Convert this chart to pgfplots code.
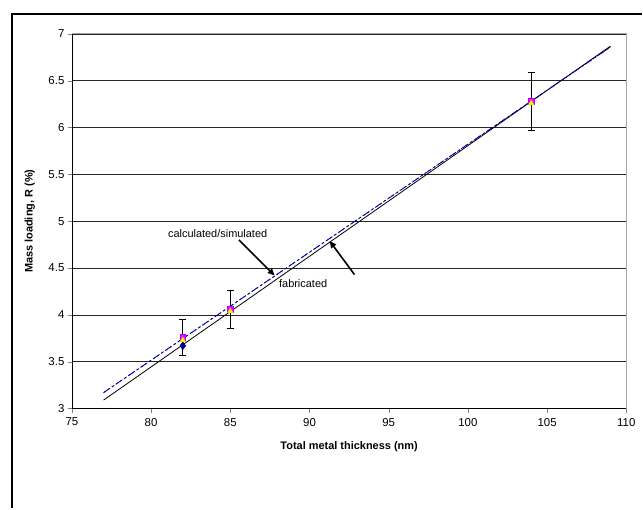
\documentclass[border=0pt]{standalone}
\usepackage{pgfplots}
\pgfplotsset{compat=1.18}
\usepackage{fontspec}
\setmainfont{Liberation Sans}
\usetikzlibrary{arrows.meta}
\definecolor{navyfab}{RGB}{0,0,128}
\definecolor{pinksim}{RGB}{255,0,255}
\definecolor{yellowtri}{RGB}{255,255,0}

\begin{document}
\begin{tikzpicture}[x=1bp,y=1bp]
\path (0,0) rectangle (643,509);
\draw[line width=1.5bp] (12,0) -- (12,495) -- (643,495);
\begin{axis}[
    at={(72bp,100bp)}, anchor=south west,
    scale only axis,
    width=555bp, height=375bp,
    xmin=75, xmax=110, ymin=3, ymax=7,
    xtick={75,80,...,110},
    ytick={3,3.5,...,7},
    yticklabel style={/pgf/number format/fixed},
    /pgf/number format/assume math mode=true,
    tick label style={font=\fontsize{11.5}{13}\selectfont},
    xticklabel style={yshift=-2bp},
    tick align=outside, tick pos=left,
    major tick length=4bp,
    ymajorgrids,
    grid style={black!85, line width=0.7bp},
    axis line style={black, line width=0.8bp},
    axis x line*=bottom, axis y line*=left,
    xlabel={\textbf{Total metal thickness (nm)}},
    ylabel={\textbf{Mass loading, R (\%)}},
    label style={font=\fontsize{11}{13}\selectfont},
    xlabel style={at={(axis description cs:0.5,-0.101)}, anchor=center},
    ylabel style={at={(axis description cs:-0.076,0.5)}, anchor=center, rotate=0},
    clip=false,
]
% gray frame top/right
\draw[gray!70, line width=1bp] (axis cs:75,7) -- (axis cs:110,7) -- (axis cs:110,3);
% fits
\addplot[black, line width=0.8bp] coordinates {(77,3.09) (109,6.87)};
\addplot[black, densely dashed, line width=0.6bp] coordinates {(77,3.17) (109,6.86)};
\addplot[blue!80!black, line width=0.9bp, dash pattern=on 7bp off 3bp on 2bp off 3bp] coordinates {(77,3.17) (109,6.86)};
% fabricated
\addplot[only marks, mark=diamond*, mark size=4bp, navyfab, mark options={fill=navyfab}]
  coordinates {(82,3.67) (85,4.06) (104,6.28)};
% simulated with error bars
\addplot[only marks, mark=square*, mark size=2.8bp, mark options={fill=pinksim, draw=pinksim!70!blue},
  error bars/.cd, y dir=both, y explicit, error bar style={black, line width=0.7bp},
  error mark options={black, rotate=90, mark size=3.5bp, line width=0.7bp}]
  coordinates {(82,3.76) +- (0,0.19) (85,4.06) +- (0,0.2) (104,6.28) +- (0,0.31)};
\addplot[only marks, mark=triangle*, mark size=3.3bp, mark options={fill=yellowtri, draw=yellowtri!80!black}]
  coordinates {(82,3.73) (85,4.04) (104,6.26)};
% annotations
\node[font=\fontsize{11}{13}\selectfont] at (axis cs:84.2,4.87) {calculated/simulated};
\draw[-{Triangle[length=7bp,width=6bp]}, line width=1.6bp] (axis cs:85.55,4.80) -- (axis cs:87.8,4.42);
\node[font=\fontsize{11}{13}\selectfont] at (axis cs:89.6,4.33) {fabricated};
\draw[-{Triangle[length=7bp,width=6bp]}, line width=1.6bp] (axis cs:92.84,4.43) -- (axis cs:91.27,4.79);
\end{axis}
\end{tikzpicture}
\end{document}
